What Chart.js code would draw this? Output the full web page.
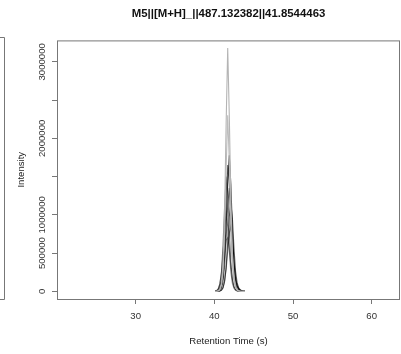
<!DOCTYPE html>
<html>
<head>
<meta charset="utf-8">
<script src="https://cdn.jsdelivr.net/npm/chart.js@4.4.1/dist/chart.umd.min.js"></script>
<style>
  html, body { margin: 0; padding: 0; background: #fff; }
  #wrap { width: 401px; height: 354px; }
</style>
</head>
<body>
<div id="wrap"><canvas id="chart" width="401" height="354"></canvas></div>
<script>
const chartTitle = 'M5||[M+H]_||487.132382||41.8544463';
const xTitle = 'Retention Time (s)';
const yTitle = 'Intensity';

// retention times (s) shared by all traces
const times = [40.1, 40.3, 40.5, 40.7, 40.9, 41.1, 41.3, 41.5, 41.7, 41.9,
               42.1, 42.3, 42.5, 42.7, 42.9, 43.1, 43.3, 43.5, 43.7, 43.9];

// intensities per sample
const peakA = [0, 2000, 8000, 30000, 100000, 350000, 1000000, 2200000, 3180000, 2300000, 1200000, 500000, 180000, 60000, 20000, 8000, 3000, 1000, 0, 0];
const peakB = [0, 1000, 6000, 20000, 80000, 260000, 750000, 1600000, 2300000, 1700000, 900000, 380000, 140000, 50000, 18000, 6000, 2000, 0, 0, 0];
const peakC = [0, 2000, 6000, 20000, 60000, 180000, 450000, 900000, 1450000, 1780000, 1400000, 800000, 380000, 160000, 70000, 30000, 14000, 6000, 2000, 0];
const peakD = [1000, 4000, 15000, 45000, 130000, 330000, 700000, 1250000, 1650000, 1400000, 850000, 420000, 180000, 75000, 30000, 12000, 5000, 2000, 0, 0];
const peakE = [2000, 8000, 30000, 90000, 250000, 600000, 1100000, 1500000, 1300000, 800000, 380000, 150000, 55000, 20000, 7000, 2000, 0, 0, 0, 0];
const peakF = [0, 0, 3000, 12000, 40000, 120000, 320000, 680000, 1120000, 1350000, 1150000, 700000, 330000, 140000, 60000, 25000, 10000, 4000, 1000, 0];
const peakG = [0, 0, 0, 5000, 15000, 45000, 130000, 320000, 650000, 980000, 1150000, 950000, 560000, 260000, 110000, 45000, 20000, 9000, 4000, 1000];
const peakH = [3000, 10000, 35000, 100000, 240000, 480000, 800000, 1000000, 850000, 520000, 250000, 100000, 40000, 15000, 5000, 1000, 0, 0, 0, 0];
const peakI = [0, 0, 2000, 6000, 18000, 50000, 130000, 290000, 530000, 760000, 850000, 680000, 400000, 190000, 80000, 35000, 15000, 6000, 2000, 0];
const peakJ = [1000, 5000, 18000, 55000, 140000, 300000, 510000, 670000, 700000, 560000, 330000, 160000, 65000, 25000, 9000, 3000, 1000, 0, 0, 0];

const traces = [peakA, peakB, peakH, peakJ, peakE, peakD, peakF, peakI, peakG, peakC];
const traceColors = ['#b4b4b4', '#bdbdbd', 'rgba(0,0,0,0.45)', 'rgba(0,0,0,0.4)', 'rgba(0,0,0,0.5)',
                     'rgba(0,0,0,0.6)', 'rgba(0,0,0,0.55)', 'rgba(0,0,0,0.5)', 'rgba(0,0,0,0.6)', 'rgba(0,0,0,0.75)'];

const xTicks = [30, 40, 50, 60];
const yTicks = [0, 500000, 1000000, 1500000, 2000000, 2500000, 3000000];
const yTickLabels = ['0', '500000', '1000000', '', '2000000', '', '3000000'];

const FONT = '"Liberation Sans", Arial, Helvetica, sans-serif';
const AXIS = '#777';

// plot frame plus the edge of the neighbouring panel
const framePlugin = {
  id: 'frame',
  afterDraw(chart) {
    const { ctx, chartArea: a } = chart;
    ctx.save();
    ctx.strokeStyle = AXIS;
    ctx.lineWidth = 1;
    ctx.strokeRect(a.left + 0.5, a.top + 0.5, a.right - a.left - 1, a.bottom - a.top);
    ctx.beginPath();
    ctx.moveTo(0, 37.5); ctx.lineTo(4.5, 37.5); ctx.lineTo(4.5, 299.5); ctx.lineTo(0, 299.5);
    ctx.stroke();
    ctx.restore();
  }
};

new Chart(document.getElementById('chart'), {
  type: 'scatter',
  data: {
    datasets: traces.map((vals, i) => ({
      data: vals.map((v, j) => ({ x: times[j], y: v })),
      showLine: true,
      borderColor: traceColors[i],
      borderWidth: 1.1,
      pointRadius: 0,
      tension: 0
    }))
  },
  options: {
    responsive: false,
    animation: false,
    layout: { padding: { left: 0, right: 1, top: 7, bottom: 0 } },
    plugins: {
      legend: { display: false },
      tooltip: { enabled: false },
      title: {
        display: true,
        text: chartTitle,
        fullSize: false,
        color: '#111',
        font: { family: FONT, size: 11.4, weight: 'bold', lineHeight: 1 },
        padding: { top: 1, bottom: 21 }
      }
    },
    scales: {
      x: {
        type: 'linear',
        min: 20,
        max: 63.6,
        afterBuildTicks: s => { s.ticks = xTicks.map(v => ({ value: v })); },
        afterFit: s => { s.height = 55; },
        grid: { drawOnChartArea: false, drawTicks: true, tickLength: 5, color: AXIS },
        border: { display: false },
        ticks: { color: '#333', font: { family: FONT, size: 9.6 }, padding: 7, maxRotation: 0 },
        title: { display: true, text: xTitle, color: '#222', font: { family: FONT, size: 9.6, lineHeight: 1.2 }, padding: { top: 0, bottom: 7 } }
      },
      y: {
        min: -100000,
        max: 3280000,
        afterBuildTicks: s => { s.ticks = yTicks.map(v => ({ value: v })); },
        afterFit: s => { s.width = 57; },
        grid: { drawOnChartArea: false, drawTicks: true, tickLength: 5, color: AXIS },
        border: { display: false },
        ticks: {
          color: '#333',
          font: { family: FONT, size: 9.6 },
          padding: -9.5,
          minRotation: 90,
          maxRotation: 90,
          autoSkip: false,
          crossAlign: 'center',
          callback: (v, i) => yTickLabels[i]
        },
        title: { display: true, text: yTitle, color: '#222', font: { family: FONT, size: 9.6, lineHeight: 1.2 }, padding: { top: 16, bottom: 0 } }
      }
    }
  },
  plugins: [framePlugin]
});
</script>
</body>
</html>
